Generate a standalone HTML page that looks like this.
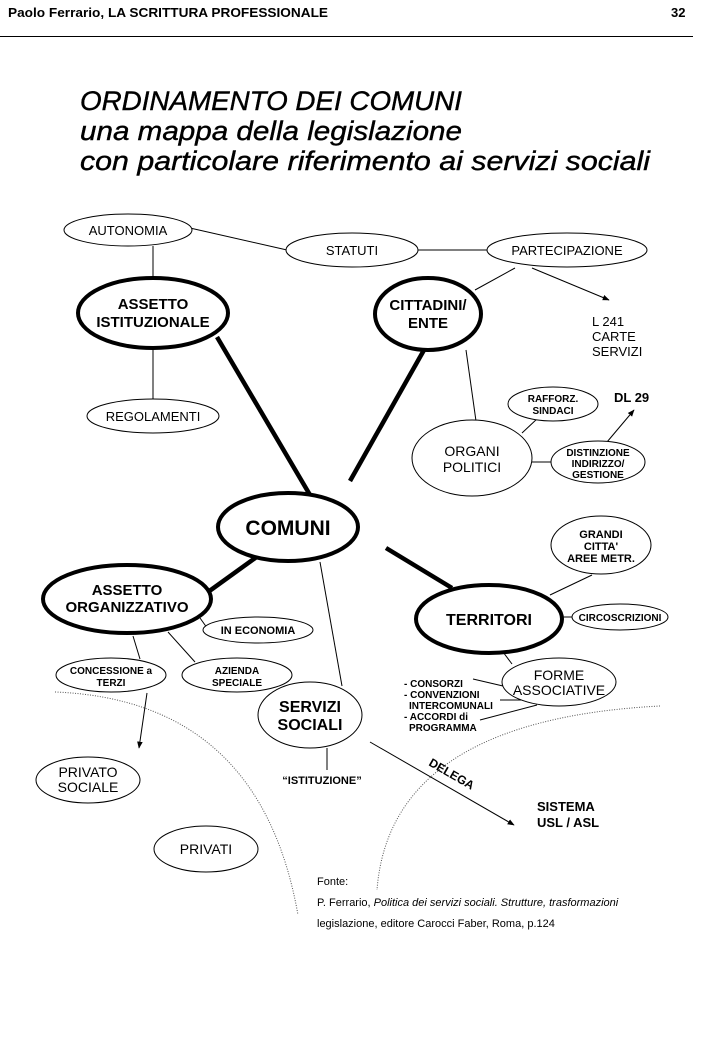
<!DOCTYPE html>
<html><head><meta charset="utf-8"><style>
html,body{margin:0;padding:0;background:#fff;}
svg{display:block;}
text{font-family:"Liberation Sans",sans-serif;fill:#000;}
.b{font-weight:bold;}
</style></head><body>
<svg width="720" height="1040" viewBox="0 0 720 1040" xmlns="http://www.w3.org/2000/svg">
<defs>
<marker id="ar" viewBox="0 0 10 10" refX="9" refY="5" markerWidth="7" markerHeight="7" orient="auto"><path d="M0,1 L10,5 L0,9 z" fill="#000"/></marker>
</defs>
<text x="8" y="17" font-size="13" class="b" textLength="320" lengthAdjust="spacingAndGlyphs">Paolo Ferrario, LA SCRITTURA PROFESSIONALE</text>
<text x="671" y="17" font-size="13" class="b">32</text>
<line x1="0" y1="36.5" x2="693" y2="36.5" stroke="#000" stroke-width="1"/>
<g font-style="italic" font-size="27" stroke="#000" stroke-width="0.4">
<text x="80" y="110" textLength="382" lengthAdjust="spacingAndGlyphs">ORDINAMENTO DEI COMUNI</text>
<text x="80" y="140" textLength="382" lengthAdjust="spacingAndGlyphs">una mappa della legislazione</text>
<text x="80" y="170" textLength="570" lengthAdjust="spacingAndGlyphs">con particolare riferimento ai servizi sociali</text>
</g>
<path d="M55,692 Q260,700 298,915" fill="none" stroke="#555" stroke-width="1" stroke-dasharray="1,1.5"/>
<path d="M660,706 Q390,720 377,890" fill="none" stroke="#555" stroke-width="1" stroke-dasharray="1,1.5"/>
<g stroke="#000" stroke-width="1" fill="none">
<line x1="190" y1="228" x2="287" y2="250"/>
<line x1="418" y1="250" x2="487" y2="250"/>
<line x1="153" y1="246" x2="153" y2="278"/>
<line x1="153" y1="348" x2="153" y2="399"/>
<line x1="515" y1="268" x2="475" y2="290"/>
<line x1="532" y1="268" x2="609" y2="300" marker-end="url(#ar)"/>
<line x1="466" y1="350" x2="476" y2="421"/>
<line x1="522" y1="433" x2="538" y2="418"/>
<line x1="532" y1="462" x2="551" y2="462"/>
<line x1="607" y1="442" x2="634" y2="410" marker-end="url(#ar)"/>
<line x1="550" y1="595" x2="592" y2="575"/>
<line x1="562" y1="617" x2="572" y2="617"/>
<line x1="503" y1="652" x2="512" y2="664"/>
<line x1="473" y1="679" x2="503" y2="686"/>
<line x1="500" y1="700" x2="522" y2="700"/>
<line x1="480" y1="720" x2="537" y2="705"/>
<line x1="200" y1="618" x2="210" y2="632"/>
<line x1="133" y1="636" x2="140" y2="659"/>
<line x1="168" y1="632" x2="195" y2="662"/>
<line x1="147" y1="693" x2="139" y2="748" marker-end="url(#ar)"/>
<line x1="320" y1="562" x2="342" y2="686"/>
<line x1="327" y1="748" x2="327" y2="770"/>
<line x1="370" y1="742" x2="514" y2="825" marker-end="url(#ar)"/>
</g>
<g stroke="#000" stroke-width="4.5" fill="none">
<line x1="217" y1="337" x2="310" y2="495"/>
<line x1="424" y1="350" x2="350" y2="481"/>
<line x1="386" y1="548" x2="452" y2="588"/>
<line x1="258" y1="556" x2="208" y2="592"/>
</g>
<g fill="#fff" stroke="#000" stroke-width="1">
<ellipse cx="128" cy="230" rx="64" ry="16"/>
<ellipse cx="352" cy="250" rx="66" ry="17"/>
<ellipse cx="567" cy="250" rx="80" ry="17"/>
<ellipse cx="153" cy="416" rx="66" ry="17"/>
<ellipse cx="472" cy="458" rx="60" ry="38"/>
<ellipse cx="553" cy="404" rx="45" ry="17"/>
<ellipse cx="598" cy="462" rx="47" ry="21"/>
<ellipse cx="601" cy="545" rx="50" ry="29"/>
<ellipse cx="620" cy="617" rx="48" ry="13"/>
<ellipse cx="559" cy="682" rx="57" ry="24"/>
<ellipse cx="258" cy="630" rx="55" ry="13"/>
<ellipse cx="111" cy="675" rx="55" ry="17"/>
<ellipse cx="237" cy="675" rx="55" ry="17"/>
<ellipse cx="88" cy="780" rx="52" ry="23"/>
<ellipse cx="206" cy="849" rx="52" ry="23"/>
<ellipse cx="310" cy="715" rx="52" ry="33"/>
</g>
<g fill="#fff" stroke="#000" stroke-width="4">
<ellipse cx="153" cy="313" rx="75" ry="35"/>
<ellipse cx="428" cy="314" rx="53" ry="36"/>
<ellipse cx="288" cy="527" rx="70" ry="34"/>
<ellipse cx="489" cy="619" rx="73" ry="34"/>
<ellipse cx="127" cy="599" rx="84" ry="34"/>
</g>
<g text-anchor="middle" font-size="13">
<text x="128" y="235">AUTONOMIA</text>
<text x="352" y="255">STATUTI</text>
<text x="567" y="255">PARTECIPAZIONE</text>
<text x="153" y="421">REGOLAMENTI</text>
<text x="472" y="456" font-size="14">ORGANI</text>
<text x="472" y="472" font-size="14">POLITICI</text>
</g>
<g text-anchor="middle" class="b">
<text x="153" y="309" font-size="15">ASSETTO</text>
<text x="153" y="327" font-size="15">ISTITUZIONALE</text>
<text x="428" y="310" font-size="15">CITTADINI/</text>
<text x="428" y="328" font-size="15">ENTE</text>
<text x="288" y="535" font-size="21">COMUNI</text>
<text x="489" y="625" font-size="16">TERRITORI</text>
<text x="127" y="595" font-size="15">ASSETTO</text>
<text x="127" y="612" font-size="15">ORGANIZZATIVO</text>
<text x="310" y="712" font-size="16">SERVIZI</text>
<text x="310" y="730" font-size="16">SOCIALI</text>
<g font-size="10">
<text x="553" y="402">RAFFORZ.</text>
<text x="553" y="414">SINDACI</text>
<text x="598" y="456">DISTINZIONE</text>
<text x="598" y="467">INDIRIZZO/</text>
<text x="598" y="478">GESTIONE</text>
<text x="601" y="538" font-size="11">GRANDI</text>
<text x="601" y="550" font-size="11">CITTA'</text>
<text x="601" y="562" font-size="11">AREE METR.</text>
<text x="620" y="621">CIRCOSCRIZIONI</text>
<text x="258" y="634" font-size="11">IN ECONOMIA</text>
<text x="111" y="674">CONCESSIONE a</text>
<text x="111" y="686">TERZI</text>
<text x="237" y="674">AZIENDA</text>
<text x="237" y="686">SPECIALE</text>
<text x="322" y="784" font-size="11">“ISTITUZIONE”</text>
</g>
</g>
<g text-anchor="middle" font-size="14">
<text x="559" y="680">FORME</text>
<text x="559" y="695">ASSOCIATIVE</text>
<text x="88" y="777">PRIVATO</text>
<text x="88" y="792">SOCIALE</text>
<text x="206" y="854">PRIVATI</text>
</g>
<g font-size="13">
<text x="592" y="326">L 241</text>
<text x="592" y="341">CARTE</text>
<text x="592" y="356">SERVIZI</text>
<text x="614" y="402" class="b">DL 29</text>
<text x="537" y="811" class="b">SISTEMA</text>
<text x="537" y="827" class="b">USL / ASL</text>
</g>
<g font-size="10" class="b">
<text x="404" y="687">- CONSORZI</text>
<text x="404" y="698">- CONVENZIONI</text>
<text x="409" y="709">INTERCOMUNALI</text>
<text x="404" y="720">- ACCORDI di</text>
<text x="409" y="731">PROGRAMMA</text>
</g>
<text x="428" y="765" font-size="12" class="b" transform="rotate(30 428 765)">DELEGA</text>
<g font-size="11">
<text x="317" y="885">Fonte:</text>
<text x="317" y="906">P. Ferrario, <tspan font-style="italic">Politica dei servizi sociali. Strutture, trasformazioni</tspan></text>
<text x="317" y="927">legislazione, editore Carocci Faber, Roma, p.124</text>
</g>
</svg>
</body></html>
